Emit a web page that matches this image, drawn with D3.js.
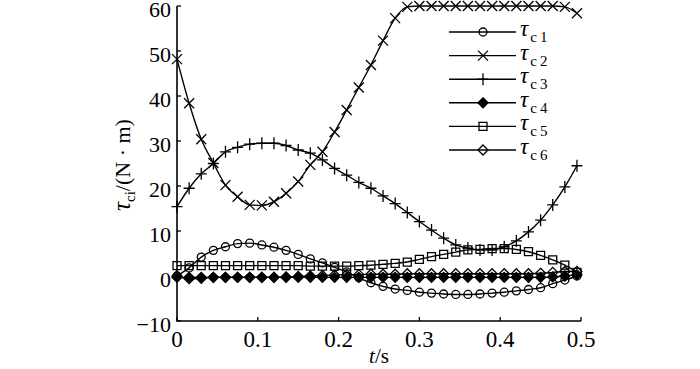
<!DOCTYPE html>
<html>
<head>
<meta charset="utf-8">
<script src="https://cdn.jsdelivr.net/npm/d3@7"></script>
<style>
body { margin: 0; background: #fff; }
svg { display: block; }
text { font-family: "Liberation Serif", "Times New Roman", serif; fill: #000; }
.curve { fill: none; stroke: #000; stroke-width: 1.4; }
.mark { stroke: #000; stroke-width: 1.3; fill: none; }
</style>
</head>
<body>
<div id="chart"></div>
<script>
// time samples (s)
var tList = [0, 0.015, 0.03, 0.045, 0.06, 0.075, 0.09, 0.105, 0.12, 0.135, 0.15, 0.165,
	0.18, 0.195, 0.21, 0.225, 0.24, 0.255, 0.27, 0.285, 0.3, 0.315, 0.33, 0.345,
	0.36, 0.375, 0.39, 0.405, 0.42, 0.435, 0.45, 0.465, 0.48, 0.495]

// torques (N*m)
var tc1 = [0, 1.8, 4.2, 5.7, 6.5, 7.2, 7.3, 6.9, 6.4, 5.7, 4.8, 3.8, 2.9, 1.9, 0.9, -0.4, -1.5,
	-2.3, -2.9, -3.2, -3.6, -3.8, -4.0, -4.1, -4.1, -4.0, -3.8, -3.6, -3.3, -3.0, -2.6, -1.7, -0.9, 0.0]
var tc2 = [48.2, 38.4, 30.4, 25.1, 20.2, 17.6, 15.8, 15.7, 16.5, 18.4, 21.0, 24.7, 27.6, 32.0,
	36.9, 41.9, 46.9, 52.3, 57.3, 59.8, 60, 60, 60, 60, 60, 60, 60, 60, 60, 60, 60, 60, 59.8, 58.4]
var tc3 = [15.4, 19.5, 22.7, 25.0, 27.6, 28.6, 29.3, 29.5, 29.5, 29.0, 28.0, 27.3, 25.8, 23.9,
	22.4, 20.8, 19.5, 17.8, 16.1, 14.1, 12.1, 10.2, 8.4, 6.9, 6.2, 5.8, 5.8, 6.5, 7.8, 9.8, 12.4, 15.8, 19.8, 24.5]
var tc4 = [-0.3, -0.3, -0.3, -0.3, -0.3, -0.3, -0.3, -0.3, -0.3, -0.3, -0.3, -0.3, -0.3, -0.3,
	-0.3, -0.3, -0.3, -0.3, -0.3, -0.3, -0.3, -0.3, -0.3, -0.3, -0.3, -0.3, -0.3, -0.3, -0.3, -0.3, -0.3, -0.2, 0.0, 0.3]
var tc5 = [2.3, 2.3, 2.3, 2.3, 2.3, 2.3, 2.3, 2.3, 2.3, 2.3, 2.3, 2.2, 2.2, 2.2, 2.2, 2.3, 2.4,
	2.6, 2.8, 3.1, 3.7, 4.3, 4.8, 5.3, 5.8, 5.9, 6.1, 6.1, 5.9, 5.4, 4.6, 3.6, 2.4, 0.8]
var tc6 = [0, -0.6, -0.5, -0.3, -0.3, -0.3, -0.3, -0.3, -0.3, -0.2, -0.1, 0, 0.1, 0.2, 0.3, 0.3,
	0.4, 0.4, 0.4, 0.5, 0.5, 0.5, 0.5, 0.5, 0.5, 0.5, 0.5, 0.5, 0.5, 0.5, 0.6, 0.8, 1.0, 1.0]

var seriesNames = ['c1', 'c2', 'c3', 'c4', 'c5', 'c6']
var seriesVals  = [tc1, tc2, tc3, tc4, tc5, tc6]
var markerKind  = ['circle', 'x', 'plus', 'fdiamond', 'square', 'diamond']

var xTicks = [0, 0.1, 0.2, 0.3, 0.4, 0.5]
var yTicks = [-10, 0, 10, 20, 30, 40, 50, 60]

var W = 700, H = 369
var x = d3.scaleLinear().domain([0, 0.5]).range([177, 581])
var y = d3.scaleLinear().domain([-10, 60]).range([321, 6])

var svg = d3.select('#chart').append('svg').attr('width', W).attr('height', H)

// marker shapes
function markerPath(kind) {
	if (kind == 'circle')   return d3.symbol().type(d3.symbolCircle).size(50)()
	if (kind == 'square')   return 'M-4,-4 L4,-4 L4,4 L-4,4 Z'
	if (kind == 'diamond' || kind == 'fdiamond') return 'M0,-5 L5,0 L0,5 L-5,0 Z'
	if (kind == 'x')        return 'M-5,-5 L5,5 M-5,5 L5,-5'
	if (kind == 'plus')     return 'M-5.5,0 L5.5,0 M0,-6 L0,6'
}
function drawMarker(g, kind, cx, cy) {
	g.append('path').attr('class', 'mark')
		.attr('d', markerPath(kind))
		.attr('transform', 'translate(' + cx + ',' + cy + ')')
		.style('fill', kind == 'fdiamond' ? '#000' : 'none')
}

var line = d3.line().curve(d3.curveMonotoneX)
	.x(function(d){ return x(d[0]) })
	.y(function(d){ return y(d[1]) })

var plot = svg.append('g').attr('id', 'series')
seriesVals.forEach(function(vals, si){
	var pts = vals.map(function(v, i){ return [tList[i], v] })
	var g = plot.append('g').attr('id', 'tau-' + seriesNames[si])
	g.append('path').attr('class', 'curve').attr('d', line(pts))
	pts.forEach(function(p){ drawMarker(g, markerKind[si], x(p[0]), y(p[1])) })
})

// axes (left + bottom, ticks inward)
var axes = svg.append('g').attr('id', 'axes')
axes.append('path').attr('d', 'M' + x(0) + ',' + y(60) + ' L' + x(0) + ',' + y(-10) + ' L' + x(0.5) + ',' + y(-10))
	.style('fill', 'none').style('stroke', '#000').style('stroke-width', 1.6)

yTicks.forEach(function(v){
	axes.append('line').attr('x1', x(0)).attr('x2', x(0) + 4).attr('y1', y(v)).attr('y2', y(v))
		.style('stroke', '#000').style('stroke-width', 1.3)
	axes.append('text').attr('x', x(0) - 6).attr('y', y(v) + 11)
		.attr('text-anchor', 'end').style('font-size', '22px')
		.text(v < 0 ? '\u2212' + Math.abs(v) : v)
})
xTicks.forEach(function(v){
	axes.append('line').attr('x1', x(v)).attr('x2', x(v)).attr('y1', y(-10)).attr('y2', y(-10) - 4)
		.style('stroke', '#000').style('stroke-width', 1.3)
	axes.append('text').attr('x', x(v)).attr('y', 347)
		.attr('text-anchor', 'middle').style('font-size', '23px')
		.text(v == 0 ? '0' : d3.format('.1f')(v))
})

// axis titles
var xl = svg.append('text').attr('x', 379).attr('y', 363).attr('text-anchor', 'middle').style('font-size', '21px')
xl.append('tspan').style('font-style', 'italic').text('t')
xl.append('tspan').text('/s')

var yl = svg.append('text').attr('transform', 'translate(130,165) rotate(-90)')
	.attr('text-anchor', 'middle').style('font-size', '22px')
yl.append('tspan').style('font-style', 'italic').style('font-size', '25px').text('\u03c4')
yl.append('tspan').attr('dy', 5).style('font-size', '15px').text('ci')
yl.append('tspan').attr('dy', -5).text('/(N \u00b7 m)')

// legend
var legend = svg.append('g').attr('id', 'legend')
seriesNames.forEach(function(name, i){
	var ly = 32 + i * 23.6
	legend.append('line').attr('x1', 449).attr('x2', 516).attr('y1', ly).attr('y2', ly)
		.style('stroke', '#000').style('stroke-width', 1.4)
	drawMarker(legend, markerKind[i], 483, ly)
	var lt = legend.append('text').attr('x', 520).attr('y', ly + 4).style('font-size', '15px')
	lt.append('tspan').style('font-style', 'italic').style('font-size', '23px').text('\u03c4')
	lt.append('tspan').attr('dx', 2).attr('dy', 6).text(name.charAt(0) + '\u2009' + name.charAt(1))
})
</script>
</body>
</html>
